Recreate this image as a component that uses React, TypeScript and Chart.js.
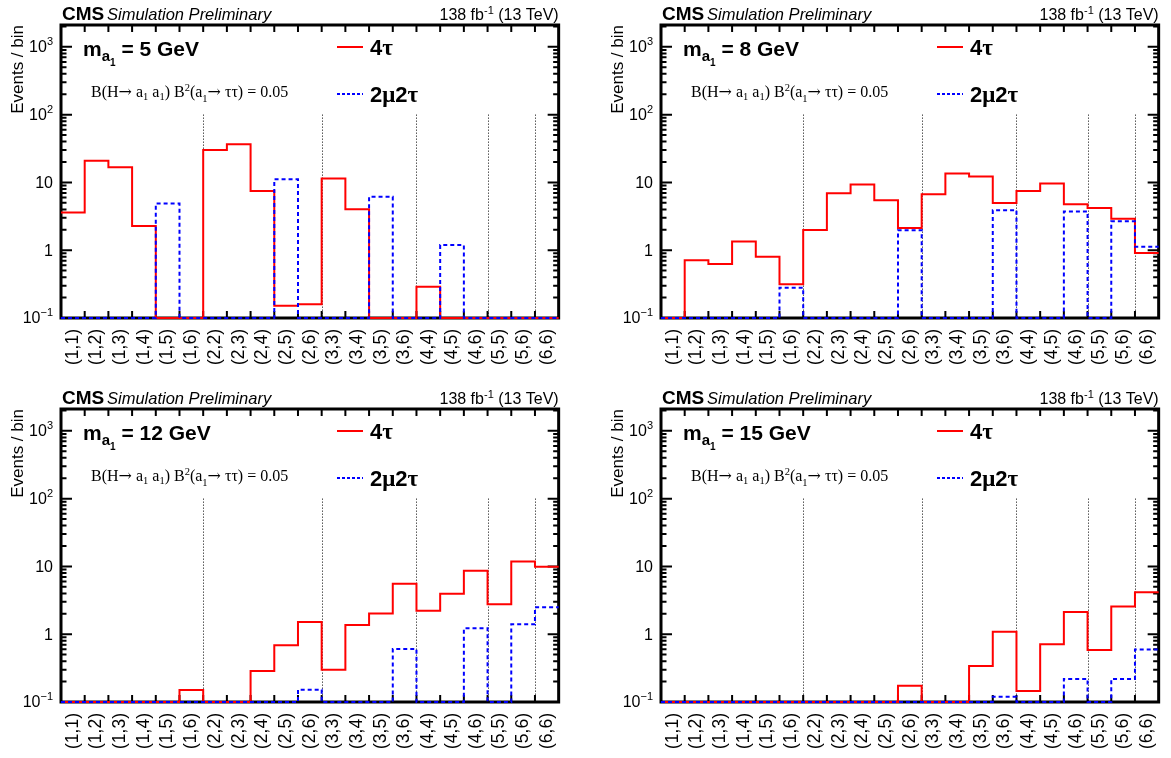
import React, { useEffect, useRef } from "react";
import { Chart, registerables } from "chart.js";
Chart.register(...registerables);

// ---------- data ----------
const categories = [
  "(1,1)", "(1,2)", "(1,3)", "(1,4)", "(1,5)", "(1,6)",
  "(2,2)", "(2,3)", "(2,4)", "(2,5)", "(2,6)",
  "(3,3)", "(3,4)", "(3,5)", "(3,6)",
  "(4,4)", "(4,5)", "(4,6)",
  "(5,5)", "(5,6)",
  "(6,6)",
];

const massValues = [5, 8, 12, 15];

const fourTau_m5 = [3.6, 20.8, 16.8, 2.28, 0, 0, 30.2, 36.6, 7.5, 0.152, 0.16, 11.4, 4.02, 0, 0, 0.29, 0, 0, 0, 0, 0];
const twoMuTwoTau_m5 = [0, 0, 0, 0, 4.87, 0, 0, 0, 0, 11.1, 0, 0, 0, 6.17, 0, 0, 1.19, 0, 0, 0, 0];

const fourTau_m8 = [0, 0.71, 0.627, 1.34, 0.8, 0.314, 1.99, 6.93, 9.29, 5.45, 2.13, 6.7, 13.5, 12.2, 4.98, 7.5, 9.6, 4.76, 4.2, 2.92, 0.91];
const twoMuTwoTau_m8 = [0, 0, 0, 0, 0, 0.28, 0, 0, 0, 0, 1.97, 0, 0, 0, 3.89, 0, 0, 3.71, 0, 2.67, 1.12];

const fourTau_m12 = [0, 0, 0, 0, 0, 0.15, 0, 0, 0.287, 0.687, 1.52, 0.3, 1.37, 2.02, 5.53, 2.21, 3.94, 8.6, 2.77, 11.8, 9.86];
const twoMuTwoTau_m12 = [0, 0, 0, 0, 0, 0, 0, 0, 0, 0, 0.152, 0, 0, 0, 0.607, 0, 0, 1.22, 0, 1.4, 2.5];

const fourTau_m15 = [0, 0, 0, 0, 0, 0, 0, 0, 0, 0, 0.174, 0, 0, 0.34, 1.09, 0.145, 0.71, 2.13, 0.586, 2.56, 4.17];
const twoMuTwoTau_m15 = [0, 0, 0, 0, 0, 0, 0, 0, 0, 0, 0, 0, 0, 0, 0.12, 0, 0, 0.219, 0, 0.219, 0.593];

const yMin = 0.1;
const yMax = 2100;
const yLabelValues = [0.1, 1, 10, 100, 1000];
const yLabelExp = ["−1", "", "", "2", "3"];
const yLabelBase = ["10", "1", "10", "10", "10"];
const separatorEdges = [6, 11, 15, 18, 20];
const separatorTop = 100;

// ---------- style ----------
const SANS = "'Liberation Sans', Arial, Helvetica, sans-serif";
const SERIF = "'Liberation Serif', 'Times New Roman', serif";
const SYM = "'DejaVu Serif', 'Liberation Serif', serif";
const W = 571;
const H = 379;
const PLOT_LEFT = 61;
const PLOT_RIGHT = 563;
const PLOT_TOP = 25;
const PLOT_BOTTOM = 318;

type Seg = { t: string; font: string; dy?: number };

function drawSegs(ctx: CanvasRenderingContext2D, segs: Seg[], x: number, y: number, align: "left" | "right" = "left") {
  let total = 0;
  for (const s of segs) {
    ctx.font = s.font;
    total += ctx.measureText(s.t).width;
  }
  let cx = align === "right" ? x - total : x;
  ctx.textAlign = "left";
  for (const s of segs) {
    ctx.font = s.font;
    ctx.fillText(s.t, cx, y + (s.dy || 0));
    cx += ctx.measureText(s.t).width;
  }
}

// histogram: value i spans [i, i+1]; Chart.js 'before' step draws horizontal first
function toPoints(values: number[]) {
  const pts = values.map((v, i) => ({ x: i, y: v > 0 ? v : yMin }));
  const last = values[values.length - 1];
  pts.push({ x: values.length, y: last > 0 ? last : yMin });
  return pts;
}

function Panel(props: { mass: number; red: number[]; blue: number[]; left: number; top: number }) {
  const ref = useRef<HTMLCanvasElement | null>(null);
  useEffect(() => {
    const canvas = ref.current;
    if (!canvas) return;
    const mass = props.mass;

    const plugin = {
      id: "rootStyle",
      beforeDatasetsDraw(chart: any) {
        const ctx = chart.ctx as CanvasRenderingContext2D;
        const xs = chart.scales.x;
        const ys = chart.scales.y;
        const a = chart.chartArea;
        ctx.save();
        ctx.strokeStyle = "#000";
        ctx.fillStyle = "#000";
        // separators
        ctx.lineWidth = 1;
        ctx.setLineDash([1, 2]);
        for (const e of separatorEdges) {
          const px = Math.round(xs.getPixelForValue(e)) + 0.5;
          ctx.beginPath();
          ctx.moveTo(px, ys.getPixelForValue(separatorTop));
          ctx.lineTo(px, a.bottom);
          ctx.stroke();
        }
        ctx.setLineDash([]);
        // ticks x
        ctx.lineWidth = 2;
        for (let e = 1; e < categories.length; e++) {
          const px = xs.getPixelForValue(e);
          ctx.beginPath();
          ctx.moveTo(px, a.bottom);
          ctx.lineTo(px, a.bottom - 7);
          ctx.moveTo(px, a.top);
          ctx.lineTo(px, a.top + 7);
          ctx.stroke();
        }
        // ticks y
        for (let d = -1; d <= 3; d++) {
          for (let k = 1; k <= 9; k++) {
            const v = k * Math.pow(10, d);
            if (v < yMin || v > yMax) continue;
            const py = ys.getPixelForValue(v);
            const len = k === 1 ? 11 : 5.5;
            ctx.beginPath();
            ctx.moveTo(a.left, py);
            ctx.lineTo(a.left + len, py);
            ctx.moveTo(a.right, py);
            ctx.lineTo(a.right - len, py);
            ctx.stroke();
          }
        }
        // frame
        ctx.lineWidth = 3;
        ctx.strokeRect(a.left, a.top, a.right - a.left, a.bottom - a.top);
        ctx.restore();
      },
      afterDatasetsDraw(chart: any) {
        const ctx = chart.ctx as CanvasRenderingContext2D;
        const ys = chart.scales.y;
        const a = chart.chartArea;
        ctx.save();
        ctx.strokeStyle = "#000";
        ctx.fillStyle = "#000";
        ctx.setLineDash([]);

        // y labels
        ctx.textBaseline = "middle";
        yLabelValues.forEach((v, i) => {
          const py = ys.getPixelForValue(v);
          const segs: Seg[] = [{ t: yLabelBase[i], font: `16px ${SANS}` }];
          if (yLabelExp[i]) segs.push({ t: yLabelExp[i], font: `11px ${SANS}`, dy: -6 });
          drawSegs(ctx, segs, a.left - 8, py + 1, "right");
        });

        // y title
        ctx.textBaseline = "alphabetic";
        ctx.save();
        ctx.translate(23, a.top);
        ctx.rotate(-Math.PI / 2);
        ctx.font = `17px ${SANS}`;
        ctx.textAlign = "right";
        ctx.fillText("Events / bin", 0, 0);
        ctx.restore();

        // header
        drawSegs(ctx, [{ t: "CMS", font: `bold 19px ${SANS}` }], a.left + 1, a.top - 5);
        drawSegs(ctx, [{ t: "Simulation Preliminary", font: `italic 16.5px ${SANS}` }], a.left + 46, a.top - 5);
        drawSegs(
          ctx,
          [
            { t: "138 fb", font: `16px ${SANS}` },
            { t: "-1", font: `11px ${SANS}`, dy: -6 },
            { t: " (13 TeV)", font: `16px ${SANS}` },
          ],
          a.right,
          a.top - 5,
          "right"
        );

        // mass label
        drawSegs(
          ctx,
          [
            { t: "m", font: `bold 21px ${SANS}` },
            { t: "a", font: `bold 15px ${SANS}`, dy: 5 },
            { t: "1", font: `bold 10px ${SANS}`, dy: 10 },
            { t: ` = ${mass} GeV`, font: `bold 21px ${SANS}` },
          ],
          a.left + 22,
          a.top + 31
        );

        // branching text
        drawSegs(
          ctx,
          [
            { t: "B(H", font: `16px ${SERIF}` },
            { t: "→", font: `16px ${SYM}` },
            { t: " a", font: `16px ${SERIF}` },
            { t: "1", font: `10.5px ${SERIF}`, dy: 3 },
            { t: " a", font: `16px ${SERIF}` },
            { t: "1", font: `10.5px ${SERIF}`, dy: 3 },
            { t: ") B", font: `16px ${SERIF}` },
            { t: "2", font: `10.5px ${SERIF}`, dy: -6 },
            { t: "(a", font: `16px ${SERIF}` },
            { t: "1", font: `10.5px ${SERIF}`, dy: 5 },
            { t: "→", font: `16px ${SYM}` },
            { t: " ττ) = 0.05", font: `16px ${SERIF}` },
          ],
          a.left + 30,
          a.top + 72
        );

        // legend
        ctx.lineWidth = 2;
        ctx.strokeStyle = "#ff0000";
        ctx.beginPath();
        ctx.moveTo(a.left + 276, a.top + 22);
        ctx.lineTo(a.left + 302, a.top + 22);
        ctx.stroke();
        ctx.strokeStyle = "#0000ff";
        ctx.setLineDash([3, 2]);
        ctx.beginPath();
        ctx.moveTo(a.left + 276, a.top + 69);
        ctx.lineTo(a.left + 302, a.top + 69);
        ctx.stroke();
        ctx.setLineDash([]);
        drawSegs(
          ctx,
          [
            { t: "4", font: `bold 22px ${SANS}` },
            { t: "τ", font: `bold 23px ${SERIF}` },
          ],
          a.left + 309,
          a.top + 30
        );
        drawSegs(
          ctx,
          [
            { t: "2", font: `bold 22px ${SANS}` },
            { t: "μ", font: `bold 23px ${SERIF}` },
            { t: "2", font: `bold 22px ${SANS}` },
            { t: "τ", font: `bold 23px ${SERIF}` },
          ],
          a.left + 309,
          a.top + 77
        );
        ctx.restore();
      },
    };

    const chart = new Chart(canvas, {
      type: "line",
      data: {
        datasets: [
          {
            label: "4τ",
            data: toPoints(props.red),
            borderColor: "#ff0000",
            borderWidth: 2,
            stepped: "before",
            pointRadius: 0,
            fill: false,
            clip: false,
            order: 2,
          },
          {
            label: "2μ2τ",
            data: toPoints(props.blue),
            borderColor: "#0000ff",
            borderWidth: 2,
            borderDash: [4, 3],
            stepped: "before",
            pointRadius: 0,
            fill: false,
            clip: false,
            order: 1,
          },
        ],
      },
      options: {
        animation: false,
        responsive: false,
        maintainAspectRatio: false,
        layout: { padding: { left: 0, top: PLOT_TOP, right: W - PLOT_RIGHT, bottom: 0 } },
        plugins: { legend: { display: false }, tooltip: { enabled: false } },
        scales: {
          x: {
            type: "linear",
            min: 0,
            max: categories.length,
            grid: { display: false },
            border: { display: false },
            afterBuildTicks: (s: any) => {
              s.ticks = categories.map((_, i) => ({ value: i + 0.5 }));
            },
            ticks: {
              autoSkip: false,
              maxRotation: 90,
              minRotation: 90,
              color: "#000",
              padding: 3,
              font: { family: SANS, size: 17.5 },
              callback: (v: any) => categories[Math.floor(Number(v))],
            },
            afterFit: (s: any) => {
              s.height = H - PLOT_BOTTOM;
            },
          },
          y: {
            type: "logarithmic",
            min: yMin,
            max: yMax,
            grid: { display: false },
            border: { display: false },
            ticks: { display: false },
            afterFit: (s: any) => {
              s.width = PLOT_LEFT;
            },
          },
        },
      } as any,
      plugins: [plugin as any],
    });
    return () => chart.destroy();
  }, []);
  return (
    <canvas
      ref={ref}
      width={W}
      height={H}
      style={{ position: "absolute", left: props.left, top: props.top, width: W, height: H }}
    />
  );
}

export default function App() {
  return (
    <div style={{ position: "absolute", left: 0, top: 0, width: 1171, height: 758, background: "#fff", overflow: "hidden" }}>
      <Panel mass={massValues[0]} red={fourTau_m5} blue={twoMuTwoTau_m5} left={0} top={0} />
      <Panel mass={massValues[1]} red={fourTau_m8} blue={twoMuTwoTau_m8} left={600} top={0} />
      <Panel mass={massValues[2]} red={fourTau_m12} blue={twoMuTwoTau_m12} left={0} top={384} />
      <Panel mass={massValues[3]} red={fourTau_m15} blue={twoMuTwoTau_m15} left={600} top={384} />
    </div>
  );
}
